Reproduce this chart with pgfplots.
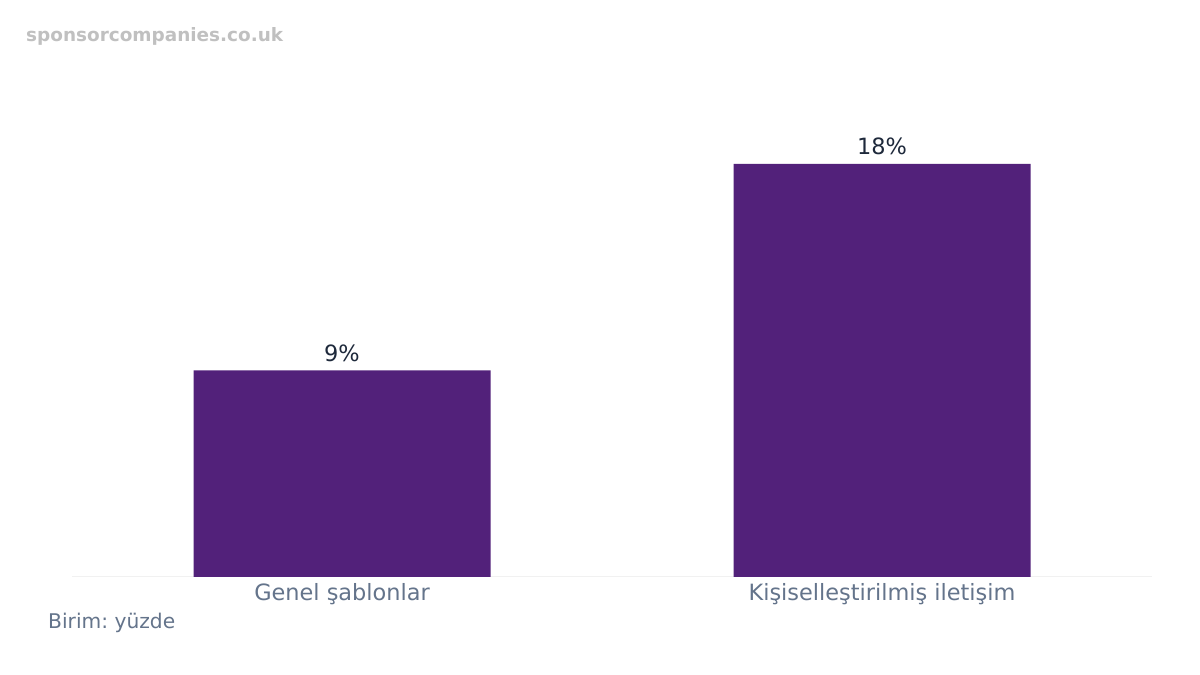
\documentclass[border=0pt]{standalone}
\usepackage{fontspec}
\setmainfont{DejaVu Sans}
\usepackage{pgfplots}
\pgfplotsset{compat=1.18}
\definecolor{barcol}{HTML}{52217A}
\definecolor{ticktxt}{HTML}{64748B}
\definecolor{valtxt}{HTML}{1E293B}
\definecolor{basecol}{HTML}{F1F1F1}
\definecolor{markcol}{HTML}{C0C0C0}
\frenchspacing
\begin{document}
\begin{tikzpicture}[x=1bp,y=1bp]
\useasboundingbox[fill=white] (0,0) rectangle (1200,675);
% watermark
\node[anchor=base west, inner sep=0, text=markcol, font=\bfseries\fontsize{18.5}{20}\selectfont] at (26,633) {sponsorcompanies.co.uk};
\begin{axis}[
  at={(72bp,98bp)}, anchor=south west,
  scale only axis, width=1080bp, height=459bp,
  xmin=-0.5, xmax=1.5, ymin=0, ymax=20,
  axis x line*=bottom, axis y line=none,
  x axis line style={draw=basecol, line width=1bp, -},
  xtick={0,1}, xticklabels={Genel şablonlar, Kişiselleştirilmiş iletişim},
  major tick length=0,
  xticklabel style={text=ticktxt, font=\fontsize{22.5}{26}\selectfont, anchor=base, yshift=-24bp, inner sep=0},
  ytick=\empty,
  ybar, bar width=297bp,
  /pgf/number format/assume math mode=true,
  nodes near coords={\pgfmathprintnumber{\pgfplotspointmeta}\%},
  every node near coord/.append style={text=valtxt, font=\fontsize{22.5}{26}\selectfont, anchor=base, inner sep=0, yshift=9bp},
  clip=false,
]
\addplot[fill=barcol, draw=none] coordinates {(0,9) (1,18)};
\end{axis}
\node[anchor=base west, inner sep=0, text=ticktxt, font=\fontsize{20.3}{22}\selectfont] at (48,46) {Birim: yüzde};
\end{tikzpicture}
\end{document}
